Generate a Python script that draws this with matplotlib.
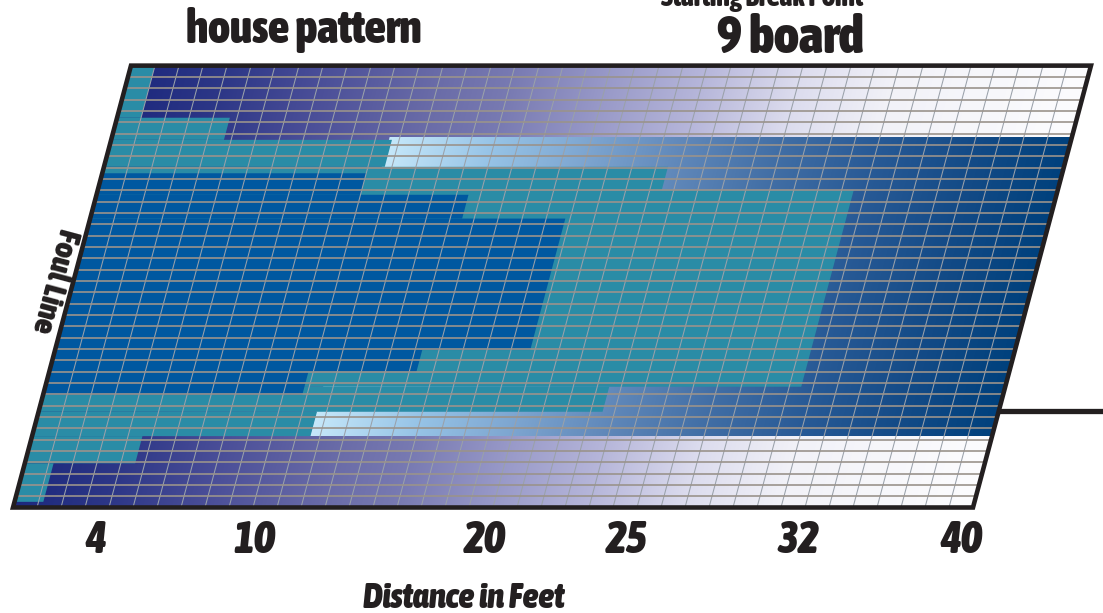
import numpy as np
import matplotlib
matplotlib.use("Agg")
import matplotlib.pyplot as plt
from matplotlib import font_manager as fm
from matplotlib.font_manager import FontProperties
from matplotlib.transforms import Affine2D
from matplotlib.patches import Rectangle, Polygon
from matplotlib.collections import LineCollection

# ---------------- data (feet along lane, boards across lane) ----------------
lane_feet = 40
lane_boards = 39
tick_feet = [4, 10, 20, 25, 32, 40]
tick_labels = ["4", "10", "20", "25", "32", "40"]

teal_board_lo = [34.4, 32.45, 30.07, 28.0, 10.66, 8.45, 6.3, 3.9, 0.5]
teal_board_hi = [39.0, 34.4, 32.45, 30.07, 28.0, 10.66, 8.45, 6.3, 3.9]
teal_feet = [1.0, 4.7, 11.7, 23.5, 31.5, 23.5, 11.6, 4.6, 1.2]

deep_board_lo = [27.6, 25.5, 13.9, 12.0, 9.93]
deep_board_hi = [29.5, 27.6, 25.5, 13.9, 12.0]
deep_feet = [11.0, 15.5, 19.8, 15.3, 10.8]

inner_board_lo = 6.3
inner_board_hi = 32.7
inner_start_feet = 11.6

break_board = 9
title = "house pattern"
break_title = "Starting Break Point"
break_label = f"{break_board} board"

# ---------------- style ----------------
outer_stops_f = [0, 4, 8, 13, 16, 20, 24, 28, 32, 40]
outer_stops_c = [(28, 40, 125), (45, 55, 135), (74, 78, 152), (106, 108, 168),
                 (120, 122, 178), (152, 153, 200), (182, 182, 218),
                 (220, 220, 238), (242, 242, 248), (252, 252, 254)]
inner_stops_f = [11.6, 16, 20, 24, 28, 32, 36, 40]
inner_stops_c = [(198, 232, 250), (150, 195, 230), (125, 165, 208),
                 (95, 135, 185), (65, 110, 165), (40, 90, 150),
                 (20, 75, 135), (0, 65, 125)]
TEAL = "#2a8ca6"
DEEP = "#0058a0"
INK = "#231f20"

# ---------------- font selection: heaviest condensed face available ----------------
_WMAP = {"ultralight": 100, "thin": 100, "light": 300, "normal": 400, "regular": 400,
         "book": 400, "medium": 500, "semibold": 600, "demibold": 600, "bold": 700,
         "extra bold": 800, "heavy": 800, "black": 900}


def _w(f):
    try:
        return int(f.weight)
    except (TypeError, ValueError):
        return _WMAP.get(str(f.weight).lower(), 400)


def _is_cond(f):
    return (str(f.stretch) not in ("normal", "500")
            or any(k in f.name for k in ("Narrow", "Condensed", "Cond")))


_cond = [f for f in fm.fontManager.ttflist if _is_cond(f)]
_up = sorted([f for f in _cond if f.style == "normal"], key=lambda f: -_w(f))
_it = sorted([f for f in _cond if f.style in ("italic", "oblique")], key=lambda f: -_w(f))


def fp_upright():
    if _up and _w(_up[0]) >= 600:
        return FontProperties(fname=_up[0].fname)
    return FontProperties(family=["Roboto", "DejaVu Sans"], weight="black")


def fp_italic():
    if _it and _w(_it[0]) >= 600:
        return FontProperties(fname=_it[0].fname)
    return FontProperties(family=["Roboto", "DejaVu Sans"], weight="black", style="italic")


fig = plt.figure(figsize=(11.03, 6.13), dpi=100)
ax = fig.add_axes([0, 0, 1, 1])
ax.set_autoscale_on(False)
ax.set_xlim(0, 1103)
ax.set_ylim(613, 0)
ax.axis("off")
renderer = fig.canvas.get_renderer()

# lane coordinate system: (feet, board) -> skewed pixel space
PX_FT, PX_BD, SLANT = 24.0, 11.33, 3.025
X0, Y0 = 13.0, 507.5
T = Affine2D(np.array([[PX_FT, SLANT, X0], [0, -PX_BD, Y0], [0, 0, 1]])) + ax.transData

lane_poly = Polygon([(0, 0), (lane_feet, 0), (lane_feet, lane_boards), (0, lane_boards)],
                    closed=True, transform=T, fill=False, edgecolor=INK,
                    linewidth=3.3, joinstyle="miter", zorder=6)


def gradient(sf, sc, f0, f1, n=500):
    fs = np.linspace(f0, f1, n)
    sc = np.array(sc, float)
    rgb = np.stack([np.interp(fs, sf, sc[:, i]) for i in range(3)], axis=-1) / 255.0
    rgba = np.concatenate([rgb, np.ones((n, 1))], axis=-1)
    return np.repeat(rgba[np.newaxis, :, :], 2, axis=0)


im1 = ax.imshow(gradient(outer_stops_f, outer_stops_c, 0, lane_feet),
                extent=(0, lane_feet, 0, lane_boards), transform=T,
                interpolation="bilinear", aspect="auto", zorder=1)
im2 = ax.imshow(gradient(inner_stops_f, inner_stops_c, inner_start_feet, lane_feet),
                extent=(inner_start_feet, lane_feet, inner_board_lo, inner_board_hi),
                transform=T, interpolation="bilinear", aspect="auto", zorder=2)
ax.add_patch(lane_poly)
im1.set_clip_path(lane_poly)
im2.set_clip_path(Rectangle((inner_start_feet, inner_board_lo),
                            lane_feet - inner_start_feet,
                            inner_board_hi - inner_board_lo, transform=T))

for lo, hi, ft in zip(teal_board_lo, teal_board_hi, teal_feet):
    ax.add_patch(Rectangle((0, lo), ft, hi - lo, transform=T, facecolor=TEAL,
                           edgecolor="none", zorder=3))
for lo, hi, ft in zip(deep_board_lo, deep_board_hi, deep_feet):
    ax.add_patch(Rectangle((0, lo), ft, hi - lo, transform=T, facecolor=DEEP,
                           edgecolor="none", zorder=4))

# grid
vlines = [[(f, 0), (f, lane_boards)] for f in range(1, lane_feet)]
hlines = [[(0, b), (lane_feet, b)] for b in range(1, lane_boards)]
ax.add_collection(LineCollection(vlines, colors="#9aa1aa", linewidths=0.75,
                                 transform=T, zorder=5))
ax.add_collection(LineCollection(hlines, colors="#9a938c", linewidths=1.2,
                                 transform=T, zorder=5))

# break point marker (centre of the break board)
ax.plot([lane_feet, lane_feet + 6], [break_board - 0.5, break_board - 0.5],
        transform=T, color=INK, linewidth=3.8, solid_capstyle="butt", zorder=6)


def fit_text(x, y, s, target_w, max_size, fp, rotation=0, **kw):
    fp = fp.copy()
    fp.set_size(max_size)
    t = ax.text(x, y, s, fontproperties=fp, color=INK, **kw)
    w = t.get_window_extent(renderer).width
    if w > target_w:
        t.set_fontsize(max_size * target_w / w)
    t.set_rotation(rotation)
    return t


UP = fp_upright()
IT = fp_italic()

fit_text(304, 43, title, 242, 33, UP, ha="center", va="baseline")
fit_text(790, 53, break_label, 150, 38, UP, ha="center", va="baseline")
fit_text(762, 6, break_title, 205, 20, UP, ha="center", va="baseline")
fit_text(54, 281, "Foul Line", 114, 23, UP, rotation=-105, rotation_mode="anchor",
         ha="center", va="center")

tick_nudge = [-0.2, 0.45, 0.0, 0.95, 1.1, -0.1]
probe = fit_text(0, 0, "20", 42, 37, IT)
tick_size = probe.get_fontsize()
probe.remove()
for f, lab, nd in zip(tick_feet, tick_labels, tick_nudge):
    tp = IT.copy()
    tp.set_size(tick_size)
    ax.text(f + nd, -2.87, lab, transform=T, ha="center", va="center",
            fontproperties=tp, color=INK)
fit_text(464, 608, "Distance in Feet", 204, 25, IT, ha="center", va="baseline")

fig.savefig("out.png", dpi=100)
